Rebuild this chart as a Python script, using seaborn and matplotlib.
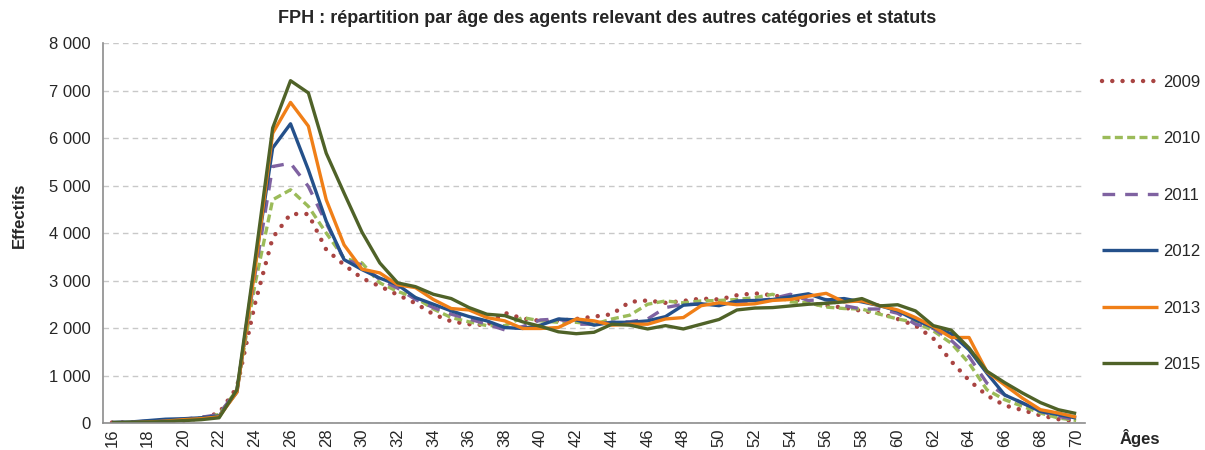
import matplotlib
matplotlib.use("Agg")
import matplotlib.pyplot as plt
from matplotlib.ticker import FixedLocator, FuncFormatter
import numpy as np
import pandas as pd
import seaborn as sns

# Ages 16..70
ages = list(range(16, 71))

v2009 = [10, 15, 20, 30, 50, 100, 210, 750, 2500, 3900, 4400, 4400, 3650, 3330, 3050,
         2880, 2700, 2520, 2290, 2140, 2080, 2060, 2320, 2200, 2150, 2150, 2190, 2240,
         2290, 2550, 2580, 2530, 2570, 2620, 2600, 2690, 2730, 2690, 2620, 2530, 2470,
         2430, 2360, 2310, 2190, 2050, 1780, 1300, 900, 580, 370, 270, 160, 80, 40]
v2010 = [10, 15, 30, 50, 70, 110, 180, 700, 2900, 4700, 4910, 4560, 4000, 3470, 3370,
         2950, 2770, 2640, 2400, 2220, 2130, 2050, 2050, 2220, 2150, 2120, 2120, 2080,
         2190, 2270, 2500, 2570, 2530, 2570, 2580, 2600, 2640, 2710, 2550, 2530, 2440,
         2410, 2400, 2290, 2190, 2120, 1940, 1680, 1260, 700, 490, 350, 210, 105, 55]
v2011 = [10, 15, 40, 60, 80, 120, 180, 700, 3100, 5400, 5470, 4980, 4210, 3440, 3330,
         3020, 2840, 2600, 2430, 2290, 2190, 2080, 1960, 2030, 2170, 2190, 2080, 2080,
         2120, 2130, 2190, 2430, 2500, 2500, 2500, 2520, 2550, 2620, 2710, 2580, 2600,
         2470, 2400, 2400, 2310, 2080, 1990, 1740, 1400, 840, 590, 420, 245, 140, 70]
v2012 = [10, 20, 50, 80, 90, 110, 150, 650, 3300, 5790, 6300, 5330, 4250, 3440, 3230,
         3050, 2910, 2640, 2500, 2360, 2240, 2150, 2010, 1990, 2060, 2190, 2170, 2060,
         2120, 2120, 2150, 2240, 2480, 2510, 2470, 2570, 2580, 2600, 2660, 2720, 2590,
         2620, 2550, 2470, 2360, 2170, 2010, 1880, 1540, 1050, 590, 420, 245, 175, 105]
v2013 = [5, 10, 20, 40, 70, 90, 130, 650, 3200, 6100, 6750, 6250, 4700, 3750, 3240,
         3160, 2910, 2850, 2600, 2410, 2380, 2220, 2150, 1990, 1990, 2010, 2190, 2150,
         2060, 2080, 2080, 2190, 2220, 2470, 2530, 2490, 2510, 2580, 2600, 2670, 2730,
         2550, 2570, 2470, 2380, 2220, 2030, 1800, 1800, 1080, 800, 520, 280, 210, 125]
v2015 = [10, 15, 20, 30, 50, 70, 110, 700, 3400, 6210, 7207, 6950, 5680, 4840, 4020,
         3370, 2950, 2870, 2710, 2620, 2430, 2290, 2260, 2130, 2035, 1920, 1880, 1910,
         2080, 2060, 1980, 2050, 1980, 2080, 2180, 2380, 2420, 2430, 2465, 2500, 2520,
         2550, 2620, 2465, 2490, 2360, 2050, 1955, 1580, 1090, 850, 630, 430, 280, 200]

years = ["2009", "2010", "2011", "2012", "2013", "2015"]
series = [v2009, v2010, v2011, v2012, v2013, v2015]
yticks = [0, 1000, 2000, 3000, 4000, 5000, 6000, 7000, 8000]
xlabels = [str(a) for a in ages[::2]]

df = pd.DataFrame({
    "Âge": ages * len(years),
    "Effectifs": [v for s in series for v in s],
    "Année": [y for y in years for _ in ages],
})

styles = {
    "2009": dict(color="#A94442", ls=(0, (0.01, 2.3)), lw=3.2, cap="round"),
    "2010": dict(color="#9BBB59", ls=(0, (2.4, 1.3)), lw=2.4, cap="butt"),
    "2011": dict(color="#7F62A1", ls=(0, (3.8, 3.0)), lw=2.4, cap="butt"),
    "2012": dict(color="#24508A", ls="-", lw=2.4, cap="butt"),
    "2013": dict(color="#F07F17", ls="-", lw=2.4, cap="butt"),
    "2015": dict(color="#4F6228", ls="-", lw=2.4, cap="butt"),
}

sns.set_style("white")
plt.rcParams["font.family"] = ["Liberation Sans", "DejaVu Sans"]

fig = plt.figure(figsize=(12.05, 4.5), dpi=100)
ax = fig.add_axes([0.0855, 0.06, 0.815, 0.8444])

for yr in years:
    st = styles[yr]
    sns.lineplot(data=df[df["Année"] == yr], x="Âge", y="Effectifs", ax=ax,
                 color=st["color"], linewidth=st["lw"], linestyle=st["ls"],
                 label=yr, solid_capstyle="butt", dash_capstyle=st["cap"])

ax.set_xlim(15.5, 70.5)
ax.set_ylim(0, 8000)

# Horizontal dashed grid
ax.yaxis.set_major_locator(FixedLocator(yticks))
ax.yaxis.set_major_formatter(FuncFormatter(lambda v, p: f"{int(v):,}".replace(",", " ")))
ax.grid(axis="y", color="#C8C8C8", linestyle=(0, (4, 3)), linewidth=1.0)
ax.grid(axis="x", visible=False)
ax.set_axisbelow(True)

# Category axis: tick marks between ages, labels at every other age
ax.xaxis.set_major_locator(FixedLocator(np.arange(15.5, 71, 1.0)))
ax.xaxis.set_major_formatter(FuncFormatter(lambda v, p: ""))
ax.xaxis.set_minor_locator(FixedLocator(ages[::2]))
ax.set_xticklabels(xlabels, minor=True, rotation=90, fontsize=12, va="top")
ax.tick_params(axis="x", which="major", length=5, width=1, color="#8C8C8C", direction="out")
ax.tick_params(axis="x", which="minor", length=0, pad=4)
ax.tick_params(axis="y", length=5, width=1, color="#8C8C8C", direction="out", labelsize=12, pad=4)

for side in ["top", "right"]:
    ax.spines[side].set_visible(False)
for side in ["left", "bottom"]:
    ax.spines[side].set_color("#8C8C8C")
    ax.spines[side].set_linewidth(1.2)

ax.set_xlabel("")
ax.set_ylabel("")

fig.text(0.504, 0.958, "FPH : répartition par âge des agents relevant des autres catégories et statuts",
         ha="center", va="center", fontsize=13, fontweight="bold")
fig.text(0.016, 0.522, "Effectifs", rotation=90, ha="center", va="center",
         fontsize=12, fontweight="bold")
fig.text(0.946, 0.027, "Âges", ha="center", va="center", fontsize=12, fontweight="bold")

leg = ax.legend(loc="upper left", bbox_to_anchor=(1.010, 0.934), frameon=False,
                fontsize=12, handlelength=3.4, handletextpad=0.3, labelspacing=2.49,
                borderaxespad=0)

fig.savefig("out.png", dpi=100)
